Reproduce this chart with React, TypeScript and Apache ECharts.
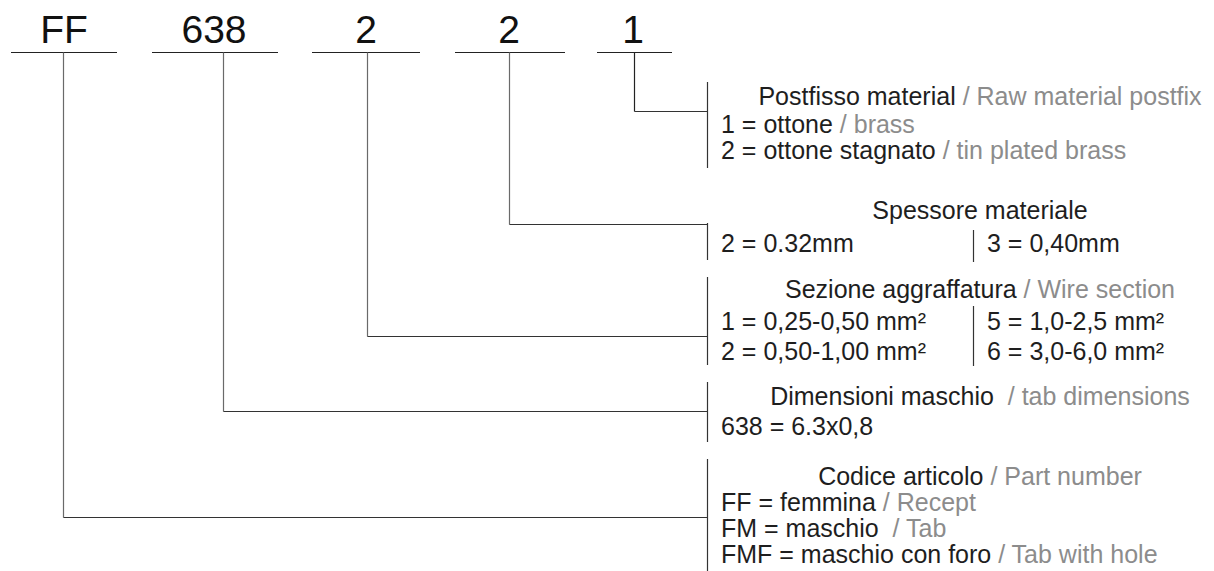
import React, { useEffect, useRef } from "react";
import * as echarts from "echarts";

// ---- content ----
const codes = ["FF", "638", "2", "2", "1"];
const headersIt = ["Codice articolo", "Dimensioni maschio ", "Sezione aggraffatura", "Spessore materiale", "Postfisso material"];
const headersEn = ["Part number", "tab dimensions", "Wire section", "", "Raw material postfix"];
const codiceRows = [["FF = femmina", "Recept"], ["FM = maschio ", "Tab"], ["FMF = maschio con foro", "Tab with hole"]];
const dimensioniRows = [["638 = 6.3x0,8", ""]];
const sezioneCol1 = ["1 = 0,25-0,50 mm²", "2 = 0,50-1,00 mm²"];
const sezioneCol2 = ["5 = 1,0-2,5 mm²", "6 = 3,0-6,0 mm²"];
const spessoreCol1 = ["2 = 0.32mm"];
const spessoreCol2 = ["3 = 0,40mm"];
const postfissoRows = [["1 = ottone", "brass"], ["2 = ottone stagnato", "tin plated brass"]];

// ---- layout (code order) ----
const underlineX = [[11, 117], [152, 278], [312, 420], [455, 565], [597, 672]];
const labelX = [64, 214, 366, 509, 633];
const dropX = [63, 223, 367, 509, 634];
const hookY = [517, 411, 336, 224, 111];
const bracketSpan = [[459, 580], [382, 442], [277, 365], [223, 260], [82, 168]];
const headerBase = [485, 405, 298, 219, 105];
const rowBase = [[511, 537, 563], [435], [330, 360], [252], [133, 159]];

const FONT = '"Liberation Sans", Arial, Helvetica, sans-serif';
const BLACK = "#1e1e1e";
const GRAY = "#8c8c8c";
const LABEL_Y = 43;
const LINE_Y = 52.5;
const BRX = 707.5;
const TEXT_X = 721;
const HEAD_CX = 980;
const SEP_X = 973.5;
const COL2_X = 987;
const FS = 25;
const LFS = 39;

function mid(base: number, fs: number) {
  return base - 0.35 * fs;
}

function bil(it: string, en: string) {
  if (!en) return `{b|${it}}`;
  return `{b|${it}} {g|/ ${en}}`;
}

function textEl(x: number, base: number, text: string, align: string, fs = FS) {
  return {
    type: "text",
    x,
    y: mid(base, fs),
    style: {
      text,
      fontSize: fs,
      fontFamily: FONT,
      fill: BLACK,
      align,
      verticalAlign: "middle",
      lineHeight: 24,
      rich: {
        b: { fill: BLACK, fontSize: fs, fontFamily: FONT, lineHeight: 24 },
        g: { fill: GRAY, fontSize: fs, fontFamily: FONT, lineHeight: 24 },
      },
    },
  };
}

function lineEl(x1: number, y1: number, x2: number, y2: number, stroke: string) {
  return { type: "line", shape: { x1, y1, x2, y2 }, style: { stroke, lineWidth: 1.2 } };
}

function buildElements() {
  const els: any[] = [];
  codes.forEach((c, i) => {
    els.push({
      type: "text",
      x: labelX[i],
      y: mid(LABEL_Y, LFS),
      style: { text: c, fontSize: LFS, fontFamily: FONT, fill: "#111", align: "center", verticalAlign: "middle" },
    });
    els.push(lineEl(underlineX[i][0], LINE_Y, underlineX[i][1], LINE_Y, "#222"));
    const dx = dropX[i] + 0.5;
    const hy = hookY[i] + 0.5;
    els.push(lineEl(dx, LINE_Y, dx, hy, i === 4 ? "#222" : "#6a6a6a"));
    els.push(lineEl(dx, hy, BRX, hy, "#333"));
    els.push(lineEl(BRX, bracketSpan[i][0], BRX, bracketSpan[i][1], "#333"));
    els.push(textEl(HEAD_CX, headerBase[i], bil(headersIt[i], headersEn[i]), "center"));
  });
  // Codice articolo rows
  codiceRows.forEach((r, j) => els.push(textEl(TEXT_X, rowBase[0][j], bil(r[0], r[1]), "left")));
  // Dimensioni rows
  dimensioniRows.forEach((r, j) => els.push(textEl(TEXT_X, rowBase[1][j], bil(r[0], r[1]), "left")));
  // Sezione rows (two columns)
  sezioneCol1.forEach((t, j) => els.push(textEl(TEXT_X, rowBase[2][j], bil(t, ""), "left")));
  sezioneCol2.forEach((t, j) => els.push(textEl(COL2_X, rowBase[2][j], bil(t, ""), "left")));
  els.push(lineEl(SEP_X, 306, SEP_X, 366, "#333"));
  // Spessore rows (two columns)
  spessoreCol1.forEach((t, j) => els.push(textEl(TEXT_X, rowBase[3][j], bil(t, ""), "left")));
  spessoreCol2.forEach((t, j) => els.push(textEl(COL2_X, rowBase[3][j], bil(t, ""), "left")));
  els.push(lineEl(SEP_X, 230, SEP_X, 262, "#333"));
  // Postfisso rows
  postfissoRows.forEach((r, j) => els.push(textEl(TEXT_X, rowBase[4][j], bil(r[0], r[1]), "left")));
  return els;
}

export default function App() {
  const ref = useRef<HTMLDivElement>(null);
  useEffect(() => {
    if (!ref.current) return;
    const chart = echarts.init(ref.current, null, { renderer: "svg" });
    chart.setOption({
      animation: false,
      backgroundColor: "#ffffff",
      graphic: { elements: buildElements() },
    });
    return () => chart.dispose();
  }, []);
  return (
    <div
      ref={ref}
      style={{ position: "fixed", left: 0, top: 0, width: 1214, height: 571, background: "#fff" }}
    />
  );
}
